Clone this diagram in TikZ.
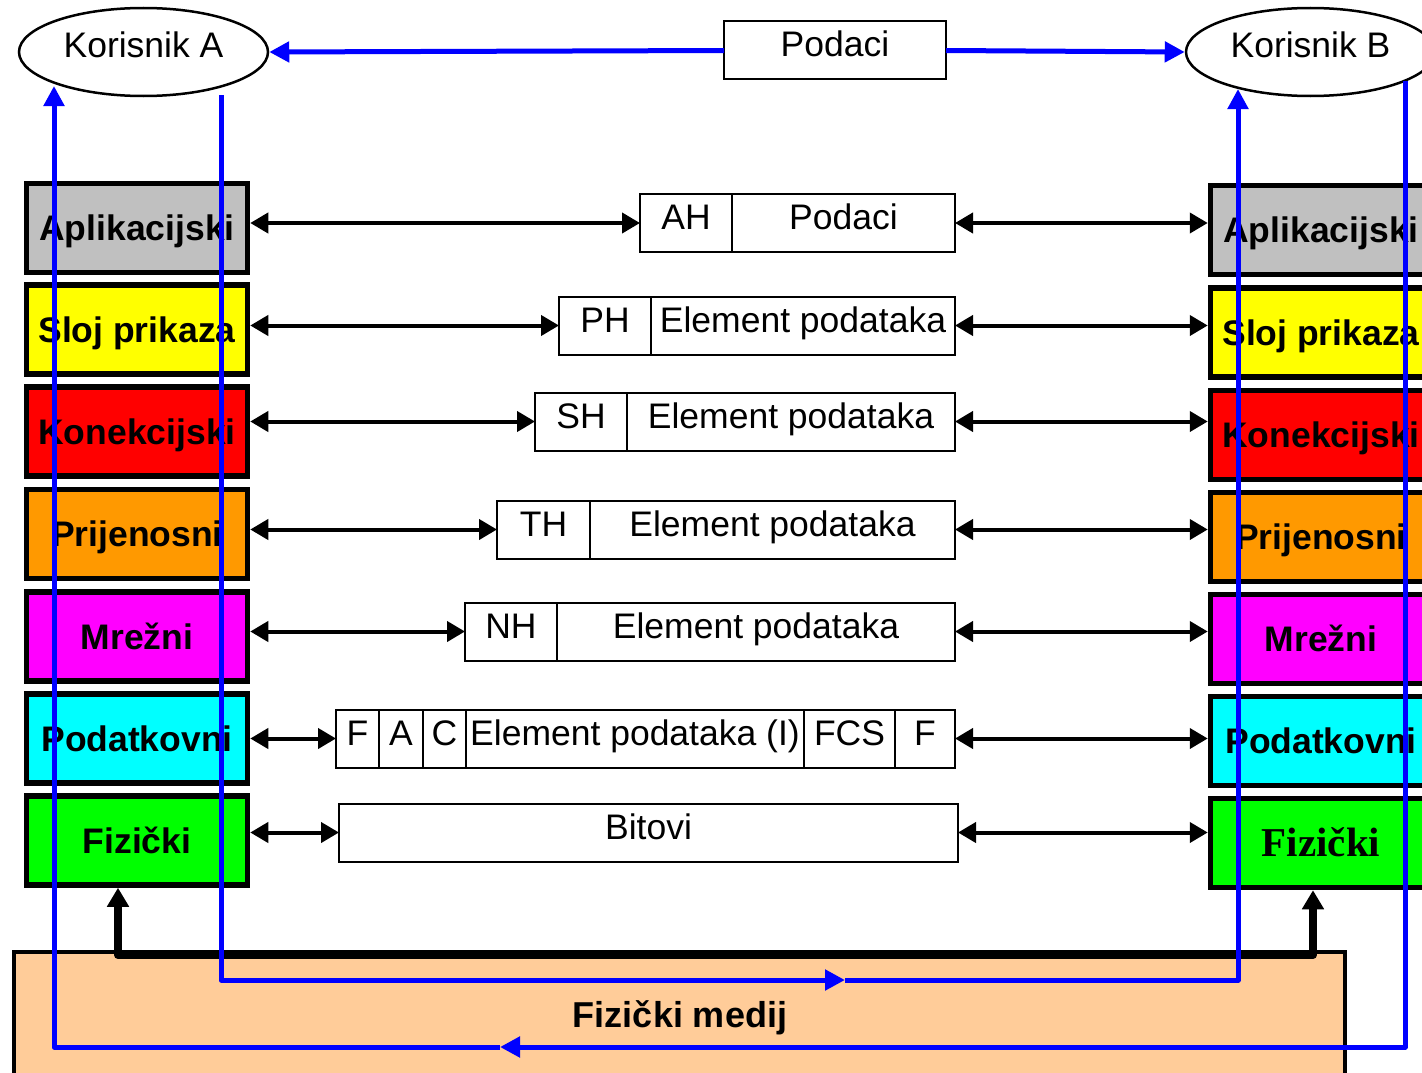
\documentclass[tikz,border=0pt]{standalone}
\usepackage{fontspec}
\setmainfont{Liberation Sans}
\newfontfamily\timesf{Liberation Serif}
\usetikzlibrary{arrows.meta,shapes.geometric}
\definecolor{lgrey}{HTML}{C0C0C0}
\definecolor{lyellow}{HTML}{FFFF00}
\definecolor{lred}{HTML}{FF0000}
\definecolor{lorange}{HTML}{FF9900}
\definecolor{lmagenta}{HTML}{FF00FF}
\definecolor{lcyan}{HTML}{00FFFF}
\definecolor{lgreen}{HTML}{00FF00}
\definecolor{peach}{HTML}{FFCC99}
\definecolor{bluec}{HTML}{0000FF}
\begin{document}
\begin{tikzpicture}[x=1pt,y=-1pt,
 layer/.style={draw=black, line width=5.5pt, minimum width=221pt, minimum height=89pt, inner sep=0pt, font=\fontsize{35.5}{40}\selectfont\bfseries, text height=25pt, text depth=0pt},
 pdu/.style={draw=black, line width=2pt, outer sep=0pt, inner sep=0pt, minimum height=58pt, anchor=west, font=\fontsize{35.5}{40}\selectfont, text height=25pt, text depth=12pt},
 blk/.style={draw=black, line width=4pt, {Triangle[length=18pt,width=20pt]}-{Triangle[length=18pt,width=20pt]}},
 blu/.style={draw=bluec, line width=5pt, line join=round, -{Triangle[length=20pt,width=20pt]}},
 user/.style={ellipse, draw=black, line width=2.5pt, minimum width=249pt, minimum height=88pt, inner sep=0pt, font=\fontsize{35.5}{40}\selectfont, text height=25pt, text depth=14pt}]
\useasboundingbox (0,0) rectangle (1422,1073);
\clip (0,0) rectangle (1422,1073);
\fill[white] (0,0) rectangle (1422,1073);

% left stack
\node[layer, fill=lgrey] (la) at (137,228) {Aplikacijski};
\node[layer, fill=lyellow] (ls) at (137,329.5) {Sloj prikaza};
\node[layer, fill=lred] (lk) at (137,431.5) {Konekcijski};
\node[layer, fill=lorange] (lt) at (137,534) {Prijenosni};
\node[layer, fill=lmagenta] (ln) at (137,636.5) {Mrežni};
\node[layer, fill=lcyan] (lp) at (137,738.5) {Podatkovni};
\node[layer, fill=lgreen] (lf) at (137,840.5) {Fizički};

% right stack
\node[layer, fill=lgrey] (ra) at (1321,230) {Aplikacijski};
\node[layer, fill=lyellow] (rs) at (1321,332.5) {Sloj prikaza};
\node[layer, fill=lred] (rk) at (1321,435) {Konekcijski};
\node[layer, fill=lorange] (rt) at (1321,537) {Prijenosni};
\node[layer, fill=lmagenta] (rn) at (1321,639) {Mrežni};
\node[layer, fill=lcyan] (rp) at (1321,741) {Podatkovni};
\node[layer, fill=lgreen, font=\fontsize{41}{46}\selectfont\timesf\bfseries, text height=27pt] (rf) at (1321,843) {Fizički};

% PDUs
\node[pdu, minimum width=92pt] (p1a) at (640,223) {AH};
\node[pdu, minimum width=223pt] (p1b) at (p1a.east) {Podaci};

\node[pdu, minimum width=92pt] (p2a) at (559,325.5) {PH};
\node[pdu, minimum width=304pt] (p2b) at (p2a.east) {Element podataka};

\node[pdu, minimum width=92pt] (p3a) at (535,421.5) {SH};
\node[pdu, minimum width=328pt] (p3b) at (p3a.east) {Element podataka};

\node[pdu, minimum width=93pt] (p4a) at (497,529.5) {TH};
\node[pdu, minimum width=365pt] (p4b) at (p4a.east) {Element podataka};

\node[pdu, minimum width=92pt] (p5a) at (465,631.5) {NH};
\node[pdu, minimum width=398pt] (p5b) at (p5a.east) {Element podataka};

\node[pdu, minimum width=43pt] (p6a) at (336,738.5) {F};
\node[pdu, minimum width=44pt] (p6b) at (p6a.east) {A};
\node[pdu, minimum width=43pt] (p6c) at (p6b.east) {C};
\node[pdu, minimum width=338pt] (p6d) at (p6c.east) {Element podataka (I)};
\node[pdu, minimum width=91pt] (p6e) at (p6d.east) {FCS};
\node[pdu, minimum width=60pt] (p6f) at (p6e.east) {F};

\node[pdu, minimum width=619pt] (p7a) at (339,832.5) {Bitovi};

% horizontal arrows
\draw[blk] (la.east |- p1a.west) -- (p1a.west);
\draw[blk] (p1b.east) -- (p1b.east -| ra.west);
\draw[blk] (ls.east |- p2a.west) -- (p2a.west);
\draw[blk] (p2b.east) -- (p2b.east -| rs.west);
\draw[blk] (lk.east |- p3a.west) -- (p3a.west);
\draw[blk] (p3b.east) -- (p3b.east -| rk.west);
\draw[blk] (lt.east |- p4a.west) -- (p4a.west);
\draw[blk] (p4b.east) -- (p4b.east -| rt.west);
\draw[blk] (ln.east |- p5a.west) -- (p5a.west);
\draw[blk] (p5b.east) -- (p5b.east -| rn.west);
\draw[blk] (lp.east |- p6a.west) -- (p6a.west);
\draw[blk] (p6f.east) -- (p6f.east -| rp.west);
\draw[blk] (lf.east |- p7a.west) -- (p7a.west);
\draw[blk] (p7a.east) -- (p7a.east -| rf.west);

% physical medium
\node[draw=black, line width=4.5pt, fill=peach, minimum width=1331pt, minimum height=150pt, anchor=north west, inner sep=0pt, outer sep=0pt] (med) at (14,952) {};
\node[font=\fontsize{36}{40}\selectfont\bfseries] (medt) at (680,1018) {Fizički medij};

\coordinate (lb) at (118,955);
\coordinate (rb) at (1313,955);
\draw[line width=8pt, line join=round, {Triangle[length=19pt,width=21pt]}-{Triangle[length=19pt,width=21pt]}] (lf.south -| lb) -- (lb) -- (rb) -- (rf.south -| rb);

% top
\node[pdu, anchor=center, minimum width=222pt] (pod) at (835,50.5) {Podaci};
\node[user] (ka) at (143.5,52) {Korisnik A};
\node[user] (kb) at (1310.5,52) {Korisnik B};
\draw[blu] (pod.west) -- (ka.east);
\draw[blu] (pod.east) -- (kb.west);

% blue paths
\coordinate (c1) at (221,95);
\coordinate (c2) at (221,980);
\coordinate (cm) at (845,980);
\coordinate (c3) at (1238,980);
\coordinate (c4) at (1238,89);
\draw[blu] (c1) -- (c2) -- (cm);
\draw[blu] (cm) -- (c3) -- (c4);

\coordinate (d1) at (1405,81);
\coordinate (d2) at (1405,1047);
\coordinate (dm) at (500,1047);
\coordinate (d3) at (54,1047);
\coordinate (d4) at (54,86);
\draw[blu] (d1) -- (d2) -- (dm);
\draw[blu] (dm) -- (d3) -- (d4);
\end{tikzpicture}
\end{document}
